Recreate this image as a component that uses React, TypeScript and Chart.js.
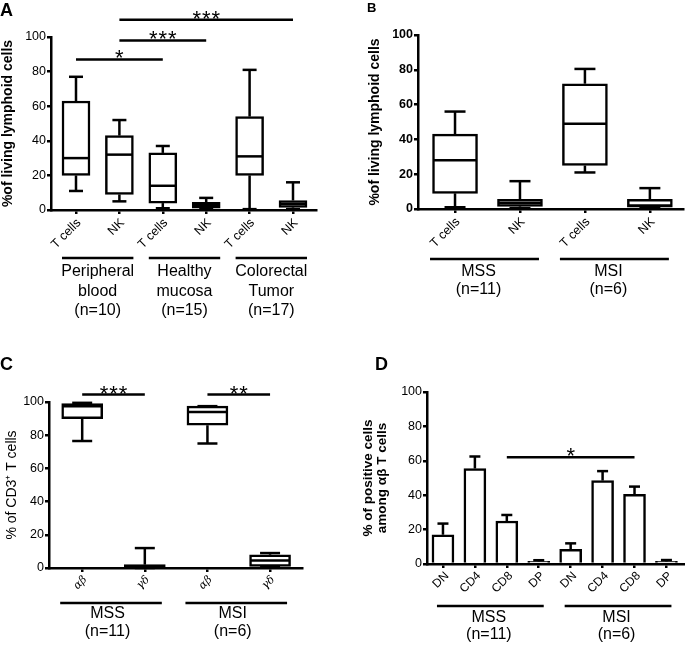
import React, { useEffect, useRef } from "react";
import { Chart, registerables } from "chart.js";

Chart.register(...registerables);

const FONT = '"Liberation Sans", Arial, Helvetica, sans-serif';

// ---------- Panel A data ----------
const aCategories = ["T cells", "NK", "T cells", "NK", "T cells", "NK"];
const aMin = [11, 5, 1, 0.5, 0.5, 0.5];
const aQ1 = [20, 9, 4, 1, 20, 1.5];
const aMedian = [30, 32, 14, 3, 31, 3.5];
const aQ3 = [63, 43, 33, 4.5, 54, 5.5];
const aMax = [77, 52, 37, 7, 81, 16];
const aGroupStart = [0, 2, 4];
const aGroupEnd = [1, 3, 5];
const aGroupLabels = [
  ["Peripheral", "blood", "(n=10)"],
  ["Healthy", "mucosa", "(n=15)"],
  ["Colorectal", "Tumor", "(n=17)"],
];
const aSigFrom = [0, 1, 1];
const aSigTo = [2, 3, 5];
const aSigAt = [87, 98, 110];
const aSigText = ["*", "***", "***"];

// ---------- Panel B data ----------
const bCategories = ["T cells", "NK", "T cells", "NK"];
const bMin = [1, 0.5, 21, 0.5];
const bQ1 = [9, 1.5, 25, 1];
const bMedian = [28, 3.5, 49, 2];
const bQ3 = [43, 5.5, 72, 5.5];
const bMax = [56, 16, 80.5, 12];
const bGroupStart = [0, 2];
const bGroupEnd = [1, 3];
const bGroupLabels = [["MSS", "(n=11)"], ["MSI", "(n=6)"]];

// ---------- Panel C data ----------
const cCategories = ["αβ", "γδ", "αβ", "γδ"];
const cMin = [76.5, 0, 75, 0.5];
const cQ1 = [90, 0.3, 86, 1];
const cMedian = [97.5, 1, 94, 4.5];
const cQ3 = [99, 2, 97.5, 8];
const cMax = [99.5, 12, 97.5, 9];
const cGroupStart = [0, 2];
const cGroupEnd = [1, 3];
const cGroupLabels = [["MSS", "(n=11)"], ["MSI", "(n=6)"]];
const cSigFrom = [0, 2];
const cSigTo = [1, 3];
const cSigAt = [104.5, 104.5];
const cSigText = ["***", "**"];

// ---------- Panel D data ----------
const dCategories = ["DN", "CD4", "CD8", "DP", "DN", "CD4", "CD8", "DP"];
const dMean = [17, 55.5, 25, 1.5, 8.5, 48.5, 40.5, 1.5];
const dErr = [6.5, 7, 3.5, 0.7, 3.5, 5.5, 4.5, 0.8];
const dGroupStart = [0, 4];
const dGroupEnd = [3, 7];
const dGroupLabels = [["MSS", "(n=11)"], ["MSI", "(n=6)"]];
const dSigFrom = [2];
const dSigTo = [6];
const dSigAt = [62];
const dSigText = ["*"];

type Spec = {
  letter: string;
  letterFont: string;
  letterX: number;
  letterY: number;
  left: number;
  top: number;
  width: number;
  height: number;
  categories: string[];
  yAxisWidth: number;
  padTop: number;
  padRight: number;
  xAxisHeight: number;
  xMin: number;
  xMax: number;
  barWidth: number;
  capWidth: number;
  box?: { min: number[]; q1: number[]; med: number[]; q3: number[]; max: number[] };
  bars?: { mean: number[]; err: number[] };
  yTitle: string | string[];
  yTitleFont: any;
  yTitlePad: number;
  yTickFont: any;
  xLabelFont: string;
  xLabelDx: number;
  xLabelDy: number;
  groups: { start: number[]; end: number[]; labels: string[][] };
  groupLineY: number;
  groupLabelY: number;
  groupLineH: number;
  groupExtL: number;
  groupExtR: number;
  groupDx: number;
  sig?: { from: number[]; to: number[]; at: number[]; text: string[] };
};

const specA: Spec = {
  letter: "A", letterFont: `bold 18px ${FONT}`, letterX: 0, letterY: 16,
  left: 0, top: 0, width: 340, height: 320,
  categories: aCategories,
  yAxisWidth: 51, padTop: 37, padRight: 24, xAxisHeight: 110,
  xMin: -0.576, xMax: 5.53, barWidth: 28, capWidth: 14,
  box: { min: aMin, q1: aQ1, med: aMedian, q3: aQ3, max: aMax },
  yTitle: "%of living lymphoid cells",
  yTitleFont: { family: FONT, size: 14, weight: "bold" }, yTitlePad: 0,
  yTickFont: { family: FONT, size: 12.5 },
  xLabelFont: `12.5px ${FONT}`, xLabelDx: 3, xLabelDy: 11,
  groups: { start: aGroupStart, end: aGroupEnd, labels: aGroupLabels },
  groupLineY: 258, groupLabelY: 272, groupLineH: 19.5,
  groupExtL: 14, groupExtR: 14, groupDx: 0,
  sig: { from: aSigFrom, to: aSigTo, at: aSigAt, text: aSigText },
};

const specB: Spec = {
  letter: "B", letterFont: `bold 13px ${FONT}`, letterX: 27, letterY: 12,
  left: 340, top: 0, width: 345, height: 320,
  categories: bCategories,
  yAxisWidth: 78, padTop: 35, padRight: 2, xAxisHeight: 111,
  xMin: -0.57, xMax: 3.51, barWidth: 45, capWidth: 21,
  box: { min: bMin, q1: bQ1, med: bMedian, q3: bQ3, max: bMax },
  yTitle: "%of living lymphoid cells",
  yTitleFont: { family: FONT, size: 14, weight: "bold" }, yTitlePad: 26.5,
  yTickFont: { family: FONT, size: 12.5, weight: "bold" },
  xLabelFont: `12.5px ${FONT}`, xLabelDx: 3, xLabelDy: 11,
  groups: { start: bGroupStart, end: bGroupEnd, labels: bGroupLabels },
  groupLineY: 259, groupLabelY: 272, groupLineH: 18,
  groupExtL: 25, groupExtR: 19, groupDx: -9,
};

const specC: Spec = {
  letter: "C", letterFont: `bold 18px ${FONT}`, letterX: 0, letterY: 50,
  left: 0, top: 320, width: 340, height: 326,
  categories: cCategories,
  yAxisWidth: 49, padTop: 82, padRight: 38, xAxisHeight: 78,
  xMin: -0.53, xMax: 3.51, barWidth: 41, capWidth: 20,
  box: { min: cMin, q1: cQ1, med: cMedian, q3: cQ3, max: cMax },
  yTitle: "% of CD3⁺ T cells",
  yTitleFont: { family: FONT, size: 14 }, yTitlePad: 3.5,
  yTickFont: { family: FONT, size: 12.5 },
  xLabelFont: `italic 11px "DejaVu Serif", "Liberation Serif", serif`, xLabelDx: 3, xLabelDy: 10,
  groups: { start: cGroupStart, end: cGroupEnd, labels: cGroupLabels },
  groupLineY: 283, groupLabelY: 293.5, groupLineH: 18.5,
  groupExtL: 22, groupExtR: 17, groupDx: -6,
  sig: { from: cSigFrom, to: cSigTo, at: cSigAt, text: cSigText },
};

const specD: Spec = {
  letter: "D", letterFont: `bold 18px ${FONT}`, letterX: 35, letterY: 50,
  left: 340, top: 320, width: 345, height: 326,
  categories: dCategories,
  yAxisWidth: 87, padTop: 72, padRight: 1, xAxisHeight: 82,
  xMin: -0.5, xMax: 7.55, barWidth: 22, capWidth: 11,
  bars: { mean: dMean, err: dErr },
  yTitle: ["% of positive cells", "among αβ T cells"],
  yTitleFont: { family: FONT, size: 13.5, weight: "bold", lineHeight: 1.1 }, yTitlePad: 20.5,
  yTickFont: { family: FONT, size: 12.5 },
  xLabelFont: `12px ${FONT}`, xLabelDx: 4, xLabelDy: 10,
  groups: { start: dGroupStart, end: dGroupEnd, labels: dGroupLabels },
  groupLineY: 286, groupLabelY: 298, groupLineH: 16.5,
  groupExtL: 6, groupExtR: 5, groupDx: -2,
  sig: { from: dSigFrom, to: dSigTo, at: dSigAt, text: dSigText },
};

const LW = 2.5;

function makeChart(canvas: HTMLCanvasElement, s: Spec) {
  const n = s.categories.length;
  const data = s.box
    ? s.categories.map((_, i) => ({ x: i, y: [s.box!.q1[i], s.box!.q3[i]] }))
    : s.categories.map((_, i) => ({ x: i, y: s.bars!.mean[i] }));

  const overlay = {
    id: "overlay",
    afterDatasetsDraw(chart: any) {
      const ctx = chart.ctx as CanvasRenderingContext2D;
      const xs = chart.scales.x;
      const ys = chart.scales.y;
      ctx.save();
      ctx.strokeStyle = "#000";
      ctx.lineWidth = LW;
      const seg = (x1: number, y1: number, x2: number, y2: number) => {
        ctx.beginPath();
        ctx.moveTo(x1, y1);
        ctx.lineTo(x2, y2);
        ctx.stroke();
      };
      const cap = s.capWidth / 2;
      for (let i = 0; i < n; i++) {
        const cx = xs.getPixelForValue(i);
        if (s.box) {
          const b = s.box;
          const yMin = ys.getPixelForValue(b.min[i]);
          const yQ1 = ys.getPixelForValue(b.q1[i]);
          const yMed = ys.getPixelForValue(b.med[i]);
          const yQ3 = ys.getPixelForValue(b.q3[i]);
          const yMax = ys.getPixelForValue(b.max[i]);
          seg(cx, yQ3, cx, yMax);
          seg(cx - cap, yMax, cx + cap, yMax);
          seg(cx, yQ1, cx, yMin);
          seg(cx - cap, yMin, cx + cap, yMin);
          seg(cx - s.barWidth / 2 + 1, yMed, cx + s.barWidth / 2 - 1, yMed);
        } else if (s.bars) {
          const yTop = ys.getPixelForValue(s.bars.mean[i]);
          const yErr = ys.getPixelForValue(s.bars.mean[i] + s.bars.err[i]);
          seg(cx, yTop, cx, yErr);
          seg(cx - cap, yErr, cx + cap, yErr);
        }
      }
      ctx.restore();
    },
    afterDraw(chart: any) {
      const ctx = chart.ctx as CanvasRenderingContext2D;
      const xs = chart.scales.x;
      const ys = chart.scales.y;
      const axisY = chart.chartArea.bottom;
      ctx.save();
      ctx.strokeStyle = "#000";
      ctx.fillStyle = "#000";
      ctx.lineWidth = LW;
      const seg = (x1: number, y1: number, x2: number, y2: number) => {
        ctx.beginPath();
        ctx.moveTo(x1, y1);
        ctx.lineTo(x2, y2);
        ctx.stroke();
      };
      // rotated category labels
      ctx.font = s.xLabelFont;
      ctx.textAlign = "right";
      ctx.textBaseline = "middle";
      for (let i = 0; i < n; i++) {
        const cx = xs.getPixelForValue(i);
        ctx.save();
        ctx.translate(cx + s.xLabelDx, axisY + s.xLabelDy);
        ctx.rotate(-Math.PI / 4);
        ctx.fillText(s.categories[i], 0, 0);
        ctx.restore();
      }
      // significance bars
      if (s.sig) {
        ctx.font = `22px ${FONT}`;
        ctx.textAlign = "center";
        ctx.textBaseline = "alphabetic";
        for (let k = 0; k < s.sig.from.length; k++) {
          const x1 = xs.getPixelForValue(s.sig.from[k]);
          const x2 = xs.getPixelForValue(s.sig.to[k]);
          const y = ys.getPixelForValue(s.sig.at[k]);
          seg(x1, y, x2, y);
          const stars = s.sig.text[k].length;
          const mid = (x1 + x2) / 2;
          for (let j = 0; j < stars; j++) {
            ctx.fillText("*", mid + (j - (stars - 1) / 2) * 9.5, y + 6);
          }
        }
      }
      // group lines and labels
      ctx.font = `16px ${FONT}`;
      ctx.textAlign = "center";
      ctx.textBaseline = "middle";
      for (let g = 0; g < s.groups.start.length; g++) {
        const x1 = xs.getPixelForValue(s.groups.start[g]);
        const x2 = xs.getPixelForValue(s.groups.end[g]);
        seg(x1 - s.groupExtL, s.groupLineY, x2 + s.groupExtR, s.groupLineY);
        const cx = (x1 + x2) / 2 + s.groupDx;
        s.groups.labels[g].forEach((t, li) => {
          ctx.fillText(t, cx, s.groupLabelY + li * s.groupLineH);
        });
      }
      // panel letter
      ctx.font = s.letterFont;
      ctx.textAlign = "left";
      ctx.textBaseline = "alphabetic";
      ctx.fillText(s.letter, s.letterX, s.letterY);
      ctx.restore();
    },
  };

  const axisGrid = {
    display: true,
    drawOnChartArea: false,
    drawTicks: true,
    tickLength: 4,
    color: "#000",
    lineWidth: LW,
    offset: false,
  };
  const axisBorder = { display: true, color: "#000", width: LW };

  return new Chart(canvas, {
    type: "bar",
    data: {
      datasets: [
        {
          data: data as any,
          backgroundColor: "#fff",
          borderColor: "#000",
          borderWidth: LW,
          borderSkipped: s.box ? false : "start",
          barThickness: s.barWidth,
        } as any,
      ],
    },
    options: {
      responsive: false,
      animation: false,
      devicePixelRatio: 1,
      layout: { padding: { top: s.padTop, right: s.padRight, left: 0, bottom: 0 } },
      plugins: {
        legend: { display: false },
        tooltip: { enabled: false },
      },
      scales: {
        x: {
          type: "linear",
          min: s.xMin,
          max: s.xMax,
          offset: false,
          afterBuildTicks: (sc: any) => {
            sc.ticks = s.categories.map((_, i) => ({ value: i }));
          },
          afterFit: (sc: any) => {
            sc.height = s.xAxisHeight;
          },
          ticks: {
            display: false,
            autoSkip: false,
            callback: (v: any) => s.categories[Math.round(Number(v))] ?? "",
          },
          grid: axisGrid,
          border: axisBorder,
        },
        y: {
          type: "linear",
          min: 0,
          max: 100,
          afterFit: (sc: any) => {
            sc.width = s.yAxisWidth;
          },
          ticks: { stepSize: 20, padding: 1, color: "#000", font: s.yTickFont },
          grid: axisGrid,
          border: axisBorder,
          title: {
            display: true,
            text: s.yTitle,
            color: "#000",
            font: s.yTitleFont,
            padding: { top: s.yTitlePad, bottom: 0 },
          },
        },
      },
    } as any,
    plugins: [overlay],
  });
}

function Panel({ spec }: { spec: Spec }) {
  const ref = useRef<HTMLCanvasElement>(null);
  useEffect(() => {
    if (!ref.current) return;
    const chart = makeChart(ref.current, spec);
    return () => chart.destroy();
  }, [spec]);
  return (
    <canvas
      ref={ref}
      width={spec.width}
      height={spec.height}
      style={{
        position: "absolute",
        left: spec.left,
        top: spec.top,
        width: spec.width,
        height: spec.height,
      }}
    />
  );
}

export default function App() {
  return (
    <div
      style={{
        position: "absolute",
        left: 0,
        top: 0,
        width: 685,
        height: 646,
        background: "#fff",
        overflow: "hidden",
      }}
    >
      <Panel spec={specA} />
      <Panel spec={specB} />
      <Panel spec={specC} />
      <Panel spec={specD} />
    </div>
  );
}
